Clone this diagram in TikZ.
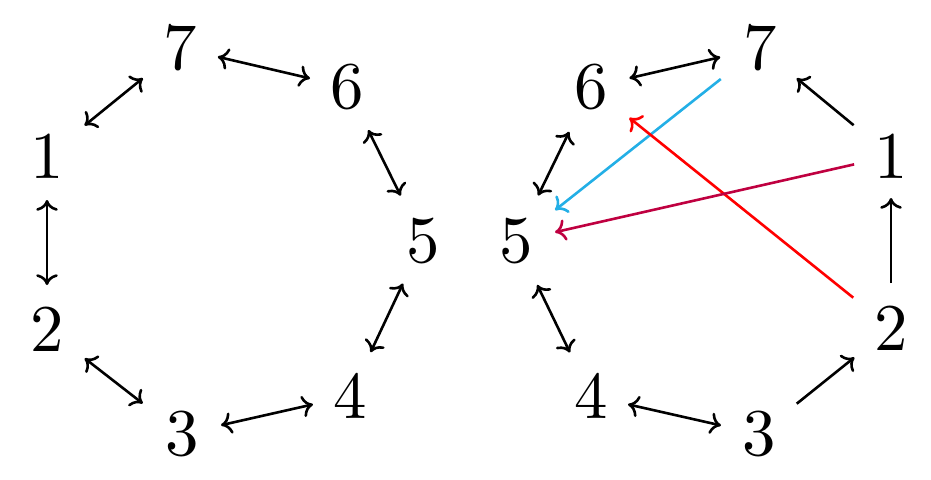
\documentclass[tikz,border=0pt]{standalone}
\usepackage{fontspec}
\setmainfont{lmroman10-regular}[Extension=.otf]
\usetikzlibrary{arrows.meta}
\definecolor{cyanline}{RGB}{35,175,230}
\definecolor{redline}{RGB}{255,0,0}
\definecolor{purpleline}{RGB}{191,0,64}
\tikzset{tip/.tip={Computer Modern Rightarrow[length=5.4pt,width=10.8pt]}}
\begin{document}
\begin{tikzpicture}[x=0.5pt,y=-0.5pt,
  num/.style={inner sep=0pt,font=\fontsize{33.4}{40}\selectfont},
  conn/.style={line width=1.3pt},
  both/.style={conn,{tip}-{tip}},
  one/.style={conn,-{tip}}]
\useasboundingbox (0,0) rectangle (931,479);
% left graph
\node[num] (L7) at (180,48) {7};
\node[num] (L6) at (347,87) {6};
\node[num] (L1) at (47,156) {1};
\node[num] (L5) at (423,241) {5};
\node[num] (L2) at (47,329) {2};
\node[num] (L4) at (350,396) {4};
\node[num] (L3) at (182,434) {3};
% right graph
\node[num] (R6) at (591,87) {6};
\node[num] (R7) at (760,48) {7};
\node[num] (R1) at (891,156) {1};
\node[num] (R5) at (516,241) {5};
\node[num] (R2) at (891,328) {2};
\node[num] (R4) at (591,396) {4};
\node[num] (R3) at (759,434) {3};
% left connectors
\draw[both,shorten <=19.4pt,shorten >=19pt] (L7.center) -- (L6.center);
\draw[both,shorten <=24.2pt,shorten >=23.9pt] (L1.center) -- (L7.center);
\draw[both,shorten <=22pt,shorten >=22pt] (L1.center) -- (L2.center);
\draw[both,shorten <=23.9pt,shorten >=24.9pt] (L2.center) -- (L3.center);
\draw[both,shorten <=20pt,shorten >=19pt] (L3.center) -- (L4.center);
\draw[both,shorten <=24.2pt,shorten >=23.5pt] (L4.center) -- (L5.center);
\draw[both,shorten <=25.3pt,shorten >=24pt] (L5.center) -- (L6.center);
% right connectors
\draw[both,shorten <=19.7pt,shorten >=20.4pt] (R6.center) -- (R7.center);
\draw[one,shorten <=24.2pt,shorten >=23.8pt] (R1.center) -- (R7.center);
\draw[one,shorten <=22.5pt,shorten >=21pt] (R2.center) -- (R1.center);
\draw[one,shorten <=24.2pt,shorten >=23.5pt] (R3.center) -- (R2.center);
\draw[both,shorten <=19pt,shorten >=19.5pt] (R4.center) -- (R3.center);
\draw[both,shorten <=24.2pt,shorten >=24.4pt] (R4.center) -- (R5.center);
\draw[both,shorten <=25.3pt,shorten >=24.9pt] (R5.center) -- (R6.center);
\draw[one,cyanline,shorten <=25pt,shorten >=24.9pt] (R7.center) -- (R5.center);
\draw[one,redline,shorten <=24.2pt,shorten >=24.6pt] (R2.center) -- (R6.center);
\draw[one,purpleline,shorten <=18.9pt,shorten >=20pt] (R1.center) -- (R5.center);
\end{tikzpicture}
\end{document}
